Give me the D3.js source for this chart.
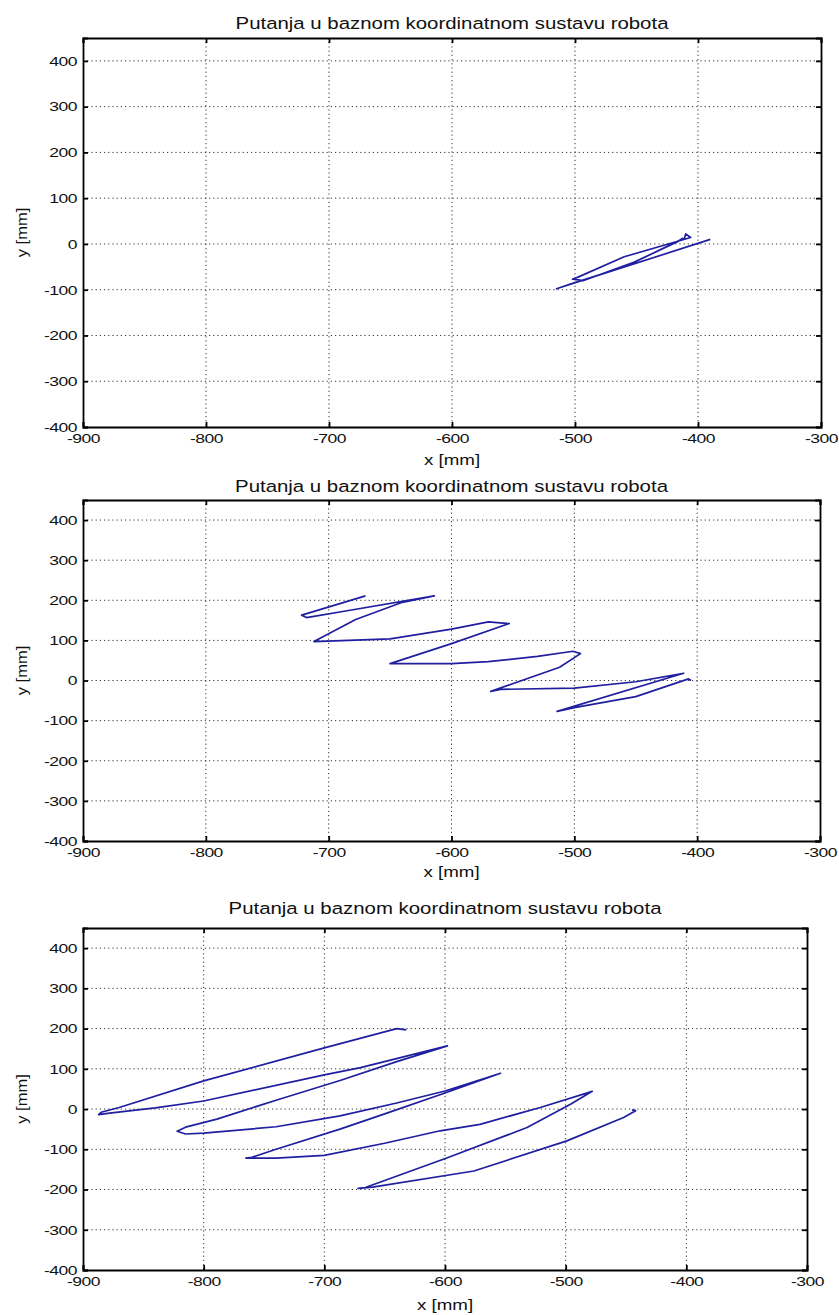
<!DOCTYPE html>
<html><head><meta charset="utf-8">
<script src="https://cdn.jsdelivr.net/npm/d3@7"></script>
<style>
body{margin:0;background:#fff;}
svg text{font-family:"Liberation Sans",Arial,sans-serif;fill:#111;}
</style></head>
<body>
<svg id="c" width="839" height="1315"></svg>
<script>
// ---- data ----
const chartTitle = "Putanja u baznom koordinatnom sustavu robota";
const xLabel = "x [mm]";
const yLabel = "y [mm]";
const xDomain = [-900, -300];
const yDomain = [-400, 450];
const xTicks = [-900, -800, -700, -600, -500, -400, -300];
const yTicks = [-400, -300, -200, -100, 0, 100, 200, 300, 400];

// trajectory 1 (x, y in mm)
const traj1 = [[-390,10],[-515,-98],[-505,-89],[-460,-50],[-411,12],[-410,22],[-406,14],[-460,-28],[-498,-73],[-502,-77],[-493,-80],[-450,-38],[-415,8],[-412,13]];
// trajectory 2
const traj2 = [[-670,211],[-722,163],[-718,157],[-685,174],[-614,211],[-640,195],[-678,152],[-712,97],[-650,104],[-600,128],[-570,146],[-553,142],[-600,92],[-650,42],[-600,42],[-570,47],[-530,60],[-501,73],[-495,67],[-512,33],[-568,-27],[-560,-22],[-500,-19],[-450,-3],[-411,18],[-514,-77],[-499,-67],[-450,-40],[-407,4],[-405,0]];
// trajectory 3
const traj3 = [[-632,197],[-640,200],[-700,152],[-800,70],[-870,4],[-885,-8],[-887,-14],[-878,-10],[-840,3],[-800,20],[-700,85],[-670,103],[-598,157],[-640,118],[-687,71],[-740,22],[-789,-25],[-815,-45],[-822,-55],[-815,-62],[-800,-60],[-740,-44],[-687,-17],[-640,15],[-600,45],[-554,89],[-600,40],[-650,-12],[-687,-50],[-740,-100],[-760,-120],[-765,-122],[-740,-122],[-700,-115],[-650,-85],[-604,-54],[-571,-38],[-521,4],[-478,44],[-496,12],[-532,-46],[-598,-121],[-666,-195],[-672,-197],[-660,-194],[-576,-154],[-499,-79],[-452,-21],[-442,-4],[-445,-2]];

// ---- layout ----
const panels = [
  {data: traj1, left: 83, right: 821, top: 38, bottom: 427, titleY: 29, xlabY: 465},
  {data: traj2, left: 83, right: 820, top: 500, bottom: 841, titleY: 492, xlabY: 877},
  {data: traj3, left: 83, right: 807, top: 928, bottom: 1270, titleY: 914, xlabY: 1310}
];

const svg = d3.select("#c");
const lineColor = "#1f1fa0";
const SX = 1.3; // horizontal stretch of text as in the source image

panels.forEach(p => {
  const x = d3.scaleLinear().domain(xDomain).range([p.left, p.right]);
  const y = d3.scaleLinear().domain(yDomain).range([p.bottom, p.top]);
  const g = svg.append("g");

  // grid
  g.selectAll(".gx").data(xTicks.filter(t => t > xDomain[0] && t < xDomain[1])).enter()
    .append("line").attr("x1", d => x(d)).attr("x2", d => x(d))
    .attr("y1", p.top).attr("y2", p.bottom)
    .attr("stroke", "#333").attr("stroke-width", 1).attr("stroke-dasharray", "1.2,3");
  g.selectAll(".gy").data(yTicks.filter(t => t > yDomain[0] && t < yDomain[1])).enter()
    .append("line").attr("y1", d => y(d)).attr("y2", d => y(d))
    .attr("x1", p.left).attr("x2", p.right)
    .attr("stroke", "#333").attr("stroke-width", 1).attr("stroke-dasharray", "1.2,3");

  // trajectory
  g.append("path").datum(p.data)
    .attr("d", d3.line().x(d => x(d[0])).y(d => y(d[1])))
    .attr("fill", "none").attr("stroke", lineColor).attr("stroke-width", 1.7)
    .attr("stroke-linejoin", "round");

  // axes (ticks inward)
  const fmt = d => String(d);
  const ax = [
    {a: d3.axisBottom(x).tickValues(xTicks).tickSize(-5).tickPadding(6), t: `translate(0,${p.bottom})`, labels: true},
    {a: d3.axisTop(x).tickValues(xTicks).tickSize(-5), t: `translate(0,${p.top})`, labels: false},
    {a: d3.axisLeft(y).tickValues(yTicks).tickSize(-5).tickPadding(4.6), t: `translate(${p.left},0)`, labels: true},
    {a: d3.axisRight(y).tickValues(yTicks).tickSize(-5), t: `translate(${p.right},0)`, labels: false}
  ];
  ax.forEach(o => {
    const ag = g.append("g").attr("transform", o.t).call(o.a.tickFormat(fmt));
    ag.select(".domain").attr("stroke", "#000").attr("stroke-width", 1.8);
    ag.selectAll(".tick line").attr("stroke", "#000").attr("stroke-width", 1.8);
    ag.selectAll(".tick text").attr("font-size", 13.5).attr("font-family", "Liberation Sans, Arial, sans-serif")
      .attr("fill", "#111").attr("letter-spacing", "-0.4px")
      .attr("transform", `scale(${SX},1)`);
    if (!o.labels) ag.selectAll(".tick text").remove();
  });

  const cx = (p.left + p.right) / 2;
  svg.append("text").attr("transform", `translate(${cx},${p.titleY}) scale(1.2,1)`).attr("text-anchor", "middle")
    .attr("font-size", 17).text(chartTitle);
  svg.append("text").attr("transform", `translate(${cx},${p.xlabY}) scale(1.25,1)`).attr("text-anchor", "middle")
    .attr("font-size", 15).text(xLabel);
  svg.append("text").attr("transform", `translate(27,${(p.top + p.bottom) / 2}) rotate(-90) scale(1.1,1)`)
    .attr("text-anchor", "middle").attr("font-size", 15).text(yLabel);
});
</script>
</body></html>
